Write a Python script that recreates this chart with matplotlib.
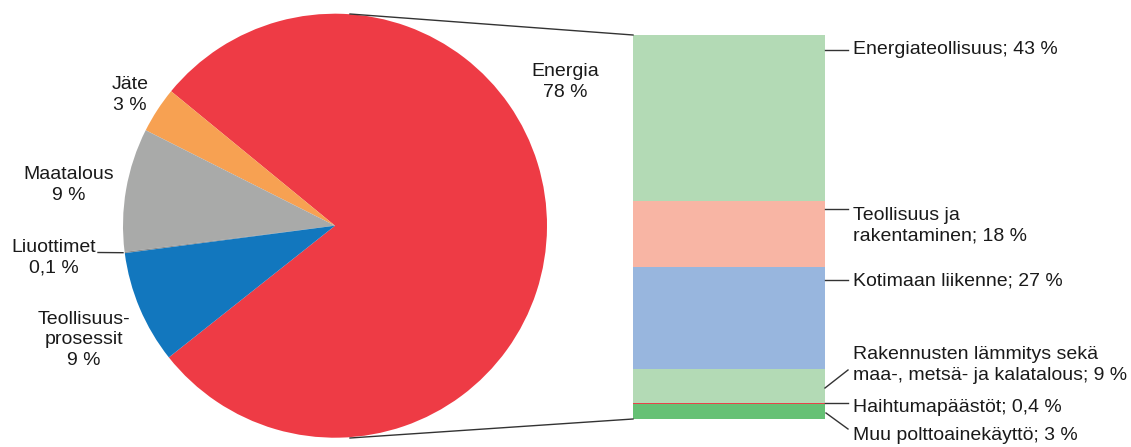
import matplotlib.pyplot as plt

plt.rcParams['font.family'] = ['Liberation Sans', 'DejaVu Sans']

# pie: emission sources
pie_labels = ["Energia\n78 %", "Jäte\n3 %", "Maatalous\n9 %", "Liuottimet\n0,1 %",
              "Teollisuus-\nprosessit\n9 %"]
pie_values = [78.4, 3.5, 9.4, 0.1, 8.6]
pie_colors = ["#EE3B45", "#F7A152", "#A9AAA9", "#8C8C8C", "#1277BE"]

# stacked bar: energy sector breakdown (bottom to top)
bar_labels = ["Muu polttoainekäyttö; 3 %", "Haihtumapäästöt; 0,4 %",
              "Rakennusten lämmitys sekä\nmaa-, metsä- ja kalatalous; 9 %",
              "Kotimaan liikenne; 27 %", "Teollisuus ja\nrakentaminen; 18 %",
              "Energiateollisuus; 43 %"]
bar_values = [3.8, 0.4, 8.8, 26.5, 17.3, 43.2]
bar_colors = ["#66C175", "#E8424A", "#B3DAB5", "#98B6DE", "#F8B5A4", "#B3DAB5"]

W, H = 1131, 447
fig = plt.figure(figsize=(W / 100, H / 100), dpi=100)

# pie axes (center ~ (335, 226) px, radius 212 px)
cx, cy, r = 335, 225.7, 212
axp = fig.add_axes([(cx - r) / W, (H - cy - r) / H, 2 * r / W, 2 * r / H])
axp.pie(pie_values, colors=pie_colors, startangle=218.4, counterclock=True,
        radius=1, wedgeprops=dict(linewidth=0))
axp.set_xlim(-1, 1)
axp.set_ylim(-1, 1)
axp.axis("off")

# bar axes
bx0, bx1, by0, by1 = 633, 825, 35, 418.7
axb = fig.add_axes([bx0 / W, (H - by1) / H, (bx1 - bx0) / W, (by1 - by0) / H])
bottom = 0
for v, c in zip(bar_values, bar_colors):
    axb.bar(0, v, width=1, bottom=bottom, color=c, linewidth=0)
    bottom += v
axb.set_xlim(-0.5, 0.5)
axb.set_ylim(0, sum(bar_values))
axb.axis("off")

# overlay in pixel coords for texts and leader lines
ax = fig.add_axes([0, 0, 1, 1], zorder=5)
ax.set_xlim(0, W)
ax.set_ylim(H, 0)
ax.axis("off")
ax.patch.set_alpha(0)

lc = "#333333"
fs = 14
tc = "#1a1a1a"

# connectors pie -> bar
ax.plot([350, bx0], [14, 35], color=lc, lw=1)
ax.plot([350, bx0], [438, 419], color=lc, lw=1)

# pie labels
pie_pos = [(565, 82), (130, 95), (69, 185), (54, 258), (84, 340)]
for (x, y), t in zip(pie_pos, pie_labels):
    ax.text(x, y, t, ha="center", va="center", fontsize=fs, color=tc, linespacing=1.25)
ax.plot([98, 123], [252.5, 252.7], color=lc, lw=1)

# bar labels and leader lines (bottom to top)
leaders = [((826, 413), (848, 429)), ((825, 403), (848, 403)), ((825, 388), (848, 370)),
           ((825, 280), (848, 280)), ((825, 209), (848, 209)), ((825, 50), (848, 50))]
text_y = [435, 408, 365, 281, 226, 50]
for (p0, p1), y, t in zip(leaders, text_y, bar_labels):
    ax.plot([p0[0], p1[0]], [p0[1], p1[1]], color=lc, lw=1)
    ax.text(853, y, t, ha="left", va="center", fontsize=fs, color=tc, linespacing=1.25)

fig.savefig("out.png", dpi=100)
